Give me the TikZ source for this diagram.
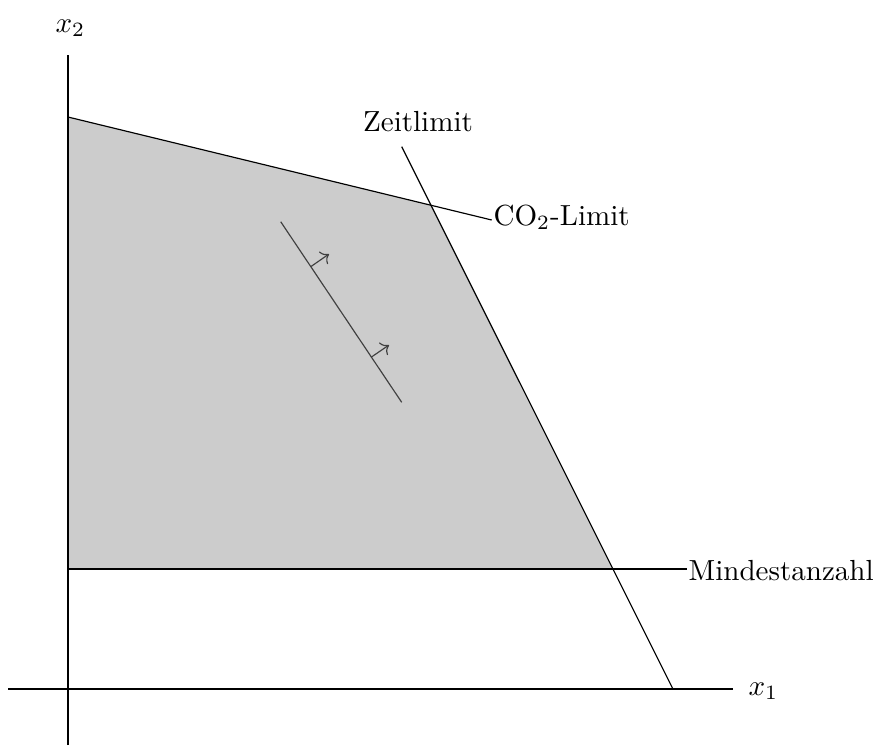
\documentclass[tikz,border=0pt]{standalone}
\usetikzlibrary{arrows.meta}
\begin{document}
\begin{tikzpicture}[x=0.344pt,y=-0.344pt,
  lbl/.style={inner sep=0pt},
  axisline/.style={line width=0.4pt, black},
  bound/.style={line width=0.4pt, black},
  obj/.style={line width=0.4pt, black!75},
  objarrow/.style={line width=0.4pt, black!75, -{To[length=2.5pt]}}]
\useasboundingbox (0,0) rectangle (873,745);
% coordinates
\coordinate (O) at (68,689);
\coordinate (A) at (68,117);
\coordinate (D) at (68,569);
\coordinate (xl) at (8,689);
\coordinate (xr) at (733,689);
\coordinate (yb) at (68,745);
\coordinate (yt) at (68,55);
\coordinate (zt) at (401.7,146.7);
\coordinate (zb) at (673.3,689.7);
\coordinate (co2end) at (491.7,220);
\coordinate (mend) at (687,569);
\coordinate (B) at (intersection of A--co2end and zt--zb);
\coordinate (C) at (intersection of D--mend and zt--zb);
\coordinate (o1) at (280.7,221.7);
\coordinate (o2) at (401.7,402.3);
\coordinate (p1) at (310.7,266.7);
\coordinate (q1) at (329,254);
\coordinate (p2) at (371,357.3);
\coordinate (q2) at (389,345);
% feasible region
\fill[black!20] (A) -- (B) -- (C) -- (D) -- cycle;
% axes
\draw[axisline] (xl) -- (xr);
\draw[axisline] (yb) -- (yt);
% constraints
\draw[bound] (A) -- (co2end);
\draw[bound] (zt) -- (zb);
\draw[bound] (D) -- (mend);
% objective
\draw[obj] (o1) -- (o2);
\draw[objarrow] (p1) -- (q1);
\draw[objarrow] (p2) -- (q2);
% labels
\node[lbl, anchor=base west] (lx1) at (748,695) {$x_1$};
\node[lbl, anchor=base west] (lx2) at (55,32) {$x_2$};
\node[lbl, anchor=base] (lz) at (418,131.5) {Zeitlimit};
\node[lbl, anchor=base west] (lco) at (493,225) {CO$_2$-Limit};
\node[lbl, anchor=base west] (lm) at (688,580) {Mindestanzahl};
\end{tikzpicture}
\end{document}
